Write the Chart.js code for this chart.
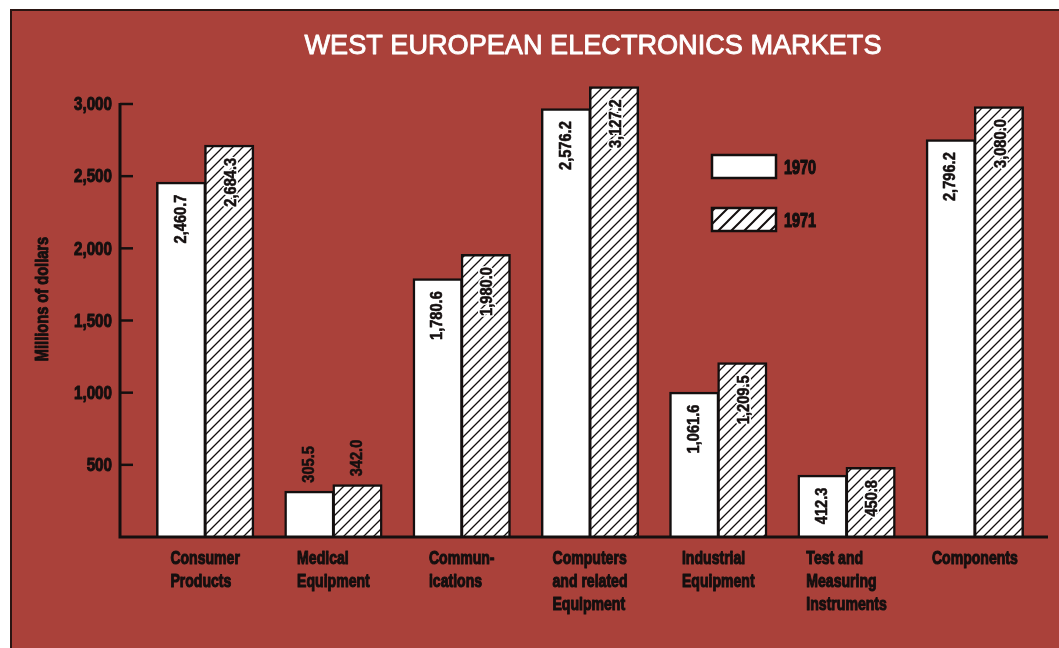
<!DOCTYPE html>
<html>
<head>
<meta charset="utf-8">
<title>West European Electronics Markets</title>
<script src="https://cdn.jsdelivr.net/npm/chart.js@4/dist/chart.umd.min.js"></script>
<style>
body{margin:0;background:#fff;}
canvas{display:block;}
</style>
</head>
<body>
<canvas id="marketChart" width="1059" height="648"></canvas>
<script>
// categories, one entry per line of the label
var categories = [
    ["Consumer", "Products"],
    ["Medical", "Equipment"],
    ["Commun-", "ications"],
    ["Computers", "and related", "Equipment"],
    ["Industrial", "Equipment"],
    ["Test and", "Measuring", "Instruments"],
    ["Components"]
];
var seriesNames = ["1970", "1971"];
// bar heights as drawn (millions of dollars)
var values1970 = [2455, 314, 1786, 2964, 1000, 425, 2749];
var values1971 = [2710, 358, 1953, 3116, 1203, 478, 2978];
// figures printed on the bars
var printed1970 = ["2,460.7", "305.5", "1,780.6", "2,576.2", "1,061.6", "412.3", "2,796.2"];
var printed1971 = ["2,684.3", "342.0", "1,980.0", "3,127.2", "1,209.5", "450.8", "3,080.0"];
var yTicks = [500, 1000, 1500, 2000, 2500, 3000];
var chartTitle = "WEST EUROPEAN ELECTRONICS MARKETS";
var yTitle = "Millions of dollars";

var FAMILY = "'Liberation Sans', Arial, sans-serif";
var RED = "#aa413a";
var INK = "#140f0f";

var canvas = document.getElementById('marketChart');
var ctx = canvas.getContext('2d');

// diagonal hatch for 1971
function makeHatch(step, lw){
    var c = document.createElement('canvas');
    c.width = step; c.height = step;
    var g = c.getContext('2d');
    g.fillStyle = '#fff';
    g.fillRect(0, 0, step, step);
    g.strokeStyle = INK;
    g.lineWidth = lw;
    g.beginPath();
    g.moveTo(-1, step + 1); g.lineTo(step + 1, -1);
    g.moveTo(-1, 1); g.lineTo(1, -1);
    g.moveTo(step - 1, step + 1); g.lineTo(step + 1, step - 1);
    g.stroke();
    return ctx.createPattern(c, 'repeat');
}
var hatch = makeHatch(10, 1.3);
var hatchBig = makeHatch(13, 2);

// condensed heavy text: squeeze a normal face horizontally, thicken with a stroke
function squeeze(c, txt, x, y, o){
    var color = o.color || INK;
    c.save();
    c.translate(x, y);
    if (o.rotate) c.rotate(o.rotate);
    c.scale(o.sx, 1);
    c.font = o.font;
    c.textAlign = o.align || 'left';
    c.textBaseline = o.baseline || 'alphabetic';
    c.lineJoin = 'round';
    if (o.halo) {
        c.strokeStyle = '#fff';
        c.lineWidth = o.halo;
        c.strokeText(txt, 0, 0);
    }
    if (o.thick) {
        c.strokeStyle = color;
        c.lineWidth = o.thick;
        c.strokeText(txt, 0, 0);
    }
    c.fillStyle = color;
    c.fillText(txt, 0, 0);
    c.restore();
}

var decor = {
    id: 'decor',
    beforeDraw: function(chart){
        var c = chart.ctx;
        c.save();
        c.fillStyle = '#fff';
        c.fillRect(0, 0, chart.width, chart.height);
        c.fillStyle = RED;
        c.fillRect(11, 10, chart.width - 11, chart.height - 10);
        c.strokeStyle = '#2a1512';
        c.lineWidth = 2;
        c.beginPath();
        c.moveTo(11, chart.height); c.lineTo(11, 10); c.lineTo(chart.width, 10);
        c.stroke();
        c.restore();
    },
    afterDatasetsDraw: function(chart){
        var c = chart.ctx;
        var area = chart.chartArea;
        var x = chart.scales.x, y = chart.scales.y;
        var axisX = area.left - 21;
        var base = y.getPixelForValue(0);
        c.save();
        // axes and ticks
        c.strokeStyle = INK;
        c.lineWidth = 3;
        c.beginPath();
        c.moveTo(axisX, y.getPixelForValue(3000) - 1);
        c.lineTo(axisX, base);
        c.lineTo(area.right + 9, base);
        c.stroke();
        c.lineWidth = 2.5;
        yTicks.forEach(function(v){
            var py = y.getPixelForValue(v);
            c.beginPath();
            c.moveTo(axisX, py);
            c.lineTo(axisX + 13, py);
            c.stroke();
            squeeze(c, v.toLocaleString('en-US'), axisX - 8, py + 1, {
                sx: 0.8, font: "bold 19px " + FAMILY, align: 'right', baseline: 'middle', thick: 1
            });
        });

        // figures on bars
        [printed1970, printed1971].forEach(function(printed, i){
            var meta = chart.getDatasetMeta(i);
            var vals = chart.data.datasets[i].data;
            meta.data.forEach(function(bar, j){
                var o = { sx: 0.86, font: "bold 17px " + FAMILY, rotate: -Math.PI / 2, baseline: 'middle', thick: 0.6 };
                if (vals[j] < 380) {
                    o.align = 'left';
                    squeeze(c, printed[j], bar.x, bar.y - 9, o);
                } else {
                    o.align = 'right';
                    if (i == 1) o.halo = 4;
                    squeeze(c, printed[j], bar.x + (i == 1 ? 2 : 0), bar.y + 12, o);
                }
            });
        });

        // category labels, lines left aligned, block centred
        var catFont = "bold 19px " + FAMILY, catSx = 0.74;
        c.font = catFont;
        categories.forEach(function(lines, i){
            var w = 0;
            lines.forEach(function(s){ w = Math.max(w, c.measureText(s).width * catSx); });
            var left = x.getPixelForValue(i) - w / 2;
            lines.forEach(function(s, k){
                squeeze(c, s, left, base + 27 + k * 23, { sx: catSx, font: catFont, thick: 1.1 });
            });
        });

        // legend
        var fills = ['#fff', hatchBig];
        seriesNames.forEach(function(name, i){
            var top = 155 + i * 53;
            c.fillStyle = fills[i];
            c.fillRect(712, top, 64, 23);
            c.strokeStyle = INK;
            c.lineWidth = 2.5;
            c.strokeRect(712, top, 64, 23);
            squeeze(c, name, 784, top + 13, { sx: 0.72, font: "bold 20px " + FAMILY, baseline: 'middle', thick: 1.2 });
        });

        // y axis title
        squeeze(c, yTitle, 43, 299, {
            sx: 0.77, font: "bold 19px " + FAMILY, rotate: -Math.PI / 2, align: 'center', baseline: 'middle', thick: 1
        });

        // title, fitted to the width it takes in the original
        var tFont = "28px " + FAMILY;
        c.font = tFont;
        var tw = c.measureText(chartTitle).width;
        squeeze(c, chartTitle, 593, 54, { sx: 577 / tw, font: tFont, align: 'center', color: '#fff', thick: 0.9 });
        c.restore();
    }
};

new Chart(ctx, {
    type: 'bar',
    data: {
        labels: categories,
        datasets: [
            {
                label: seriesNames[0],
                data: values1970,
                backgroundColor: '#fff',
                borderColor: INK,
                borderWidth: 2.5,
                inflateAmount: 1,
                clip: false
            },
            {
                label: seriesNames[1],
                data: values1971,
                backgroundColor: hatch,
                borderColor: INK,
                borderWidth: 2.5,
                inflateAmount: 1,
                clip: false
            }
        ]
    },
    options: {
        responsive: false,
        animation: false,
        events: [],
        layout: { padding: { top: 104, bottom: 111, left: 0, right: 20 } },
        datasets: { bar: { categoryPercentage: 0.75, barPercentage: 1 } },
        plugins: { legend: { display: false }, tooltip: { enabled: false } },
        scales: {
            x: { display: false },
            y: {
                min: 0,
                max: 3000,
                afterBuildTicks: function(s){
                    s.ticks = yTicks.map(function(v){ return { value: v }; });
                },
                afterFit: function(s){ s.width = 141; },
                grid: { display: false },
                border: { display: false },
                ticks: { display: false }
            }
        }
    },
    plugins: [decor]
});
</script>
</body>
</html>
